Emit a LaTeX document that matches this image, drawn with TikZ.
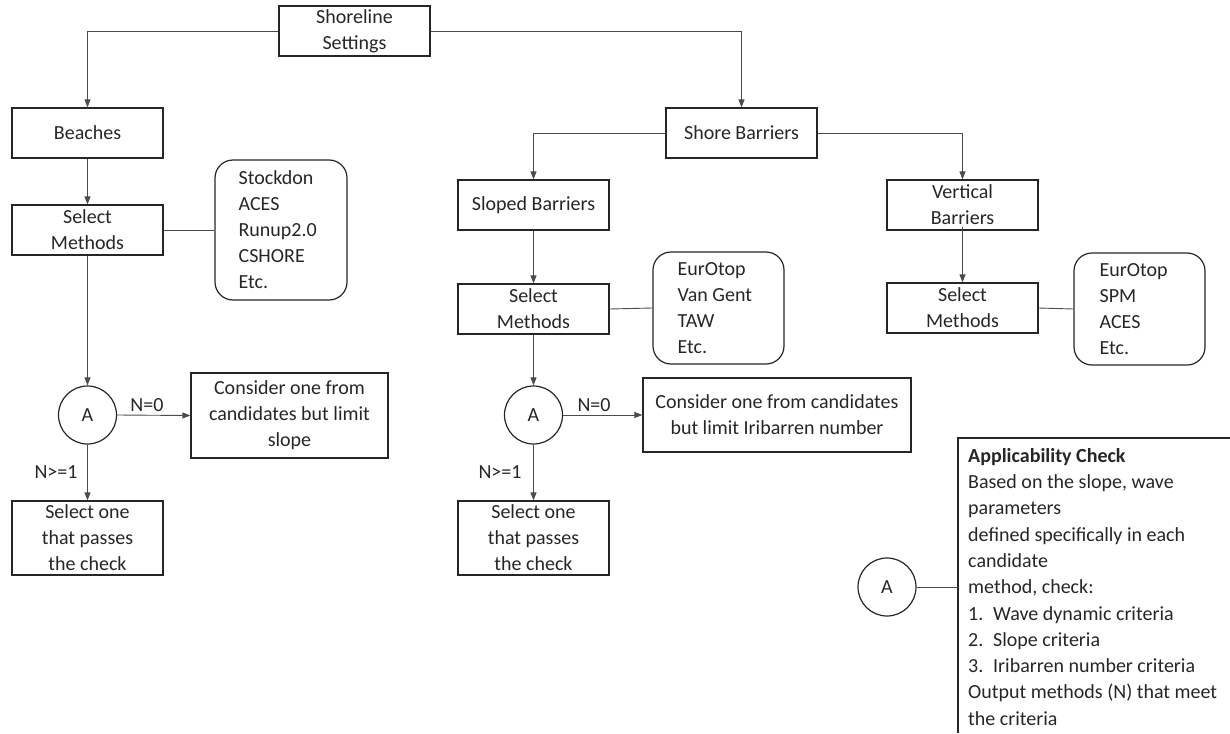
\documentclass[tikz,border=0pt]{standalone}
\usepackage{fontspec}
\setmainfont{Carlito}
\usetikzlibrary{arrows.meta}
\begin{document}
\begin{tikzpicture}[x=1pt,y=-1pt,
  txt/.style={font=\fontsize{20}{26}\selectfont, text=black!85},
  box/.style={txt, draw=black!85, line width=1.2pt, minimum width=151pt, minimum height=50pt, inner sep=0pt, align=center},
  rbox/.style={draw=black!85, line width=1.2pt, rounded corners=18pt, inner sep=0pt},
  circ/.style={txt, circle, draw=black!85, line width=1.2pt, minimum size=58pt, inner sep=0pt},
  conn/.style={draw=black!70, line width=0.9pt},
  arr/.style={conn, -{Triangle[length=8pt,width=6pt]}},
  lbl/.style={txt, inner sep=0pt, align=left}]
\useasboundingbox (0,0) rectangle (1230,733);

% top level
\node[box] (shore) at (354.5,31) {Shoreline\\Settings};
\node[box] (beach) at (87.5,133) {Beaches};
\node[box] (sb) at (741.5,133) {Shore Barriers};
\node[box] (slb) at (533.5,205) {Sloped Barriers};
\node[box] (vb) at (962.5,205) {Vertical\\Barriers};

% beach column
\node[box] (smb) at (87.5,230) {Select\\Methods};
\node[rbox, minimum width=132pt, minimum height=140pt] (lb) at (281,230) {};
\node[lbl, anchor=west] (lbt) at ([xshift=24pt]lb.west) {Stockdon\\ACES\\Runup2.0\\CSHORE\\Etc.};
\node[circ] (ab) at (87.5,415) {A};
\node[box, minimum width=197pt, minimum height=85pt] (cb) at (289.5,415.5) {Consider one from\\candidates but limit\\slope};
\node[box, minimum height=74pt] (ob) at (87.5,538) {Select one\\that passes\\the check};

% sloped column
\node[box] (sms) at (533.5,309) {Select\\Methods};
\node[rbox, minimum width=131pt, minimum height=112pt] (ls) at (718.5,308) {};
\node[lbl, anchor=west] (lst) at ([xshift=25pt]ls.west) {EurOtop\\Van Gent\\TAW\\Etc.};
\node[circ] (as) at (533.5,415) {A};
\node[box, minimum width=268pt, minimum height=74pt] (cs) at (777,415) {Consider one from candidates\\but limit Iribarren number};
\node[box, minimum height=74pt] (os) at (533.5,538) {Select one\\that passes\\the check};

% vertical column
\node[box] (smv) at (962.5,308) {Select\\Methods};
\node[rbox, minimum width=131pt, minimum height=112pt] (lv) at (1139.5,309) {};
\node[lbl, anchor=west] (lvt) at ([xshift=26pt]lv.west) {EurOtop\\SPM\\ACES\\Etc.};

% labels
\node[lbl] (n0b) at (147,405) {N=0};
\node[lbl] (n1b) at (56,472) {N>=1};
\node[lbl] (n0s) at (594,405) {N=0};
\node[lbl] (n1s) at (500,472) {N>=1};

% applicability legend
\node[circ] (al) at (887,587) {A};
\coordinate (brk) at (958,587);
\coordinate (brktop) at (958,438);
\coordinate (brkbot) at (958,733);
\coordinate (brkright) at (1230,438);
\node[lbl, anchor=north west, font=\fontsize{20}{26.3}\selectfont] (app) at (968,448)
 {\textbf{Applicability Check}\\
  Based on the slope, wave\\
  parameters\\
  defined specifically in each\\
  candidate\\
  method, check:\\
  \makebox[25pt][l]{1.}Wave dynamic criteria\\
  \makebox[25pt][l]{2.}Slope criteria\\
  \makebox[25pt][l]{3.}Iribarren number criteria\\
  Output methods (N) that meet\\
  the criteria};
\draw[line width=1.2pt, draw=black!85] (brkright) -- (brktop) -- (brkbot);
\draw[conn] (al.east) -- (brk);

% connectors
\draw[arr] (shore.west) -| (beach.north);
\draw[arr] (shore.east) -| (sb.north);
\draw[arr] (sb.west) -| (slb.north);
\draw[arr] (sb.east) -| (vb.north);
\draw[arr] (beach.south) -- (smb.north);
\draw[arr] (slb.south) -- (sms.north);
\draw[arr] ([yshift=4pt]vb.south) -- (smv.north);
\draw[conn] (smb.east) -- (lb.west);
\draw[conn] (sms.east) -- (ls.west);
\draw[conn] (smv.east) -- (lv.west);
\draw[arr] (smb.south) -- (ab.north);
\draw[arr] (sms.south) -- (as.north);
\draw[arr] (ab.east) -- (cb.west);
\draw[arr] (as.east) -- (cs.west);
\draw[arr] (ab.south) -- (ob.north);
\draw[arr] (as.south) -- (os.north);
\end{tikzpicture}
\end{document}
